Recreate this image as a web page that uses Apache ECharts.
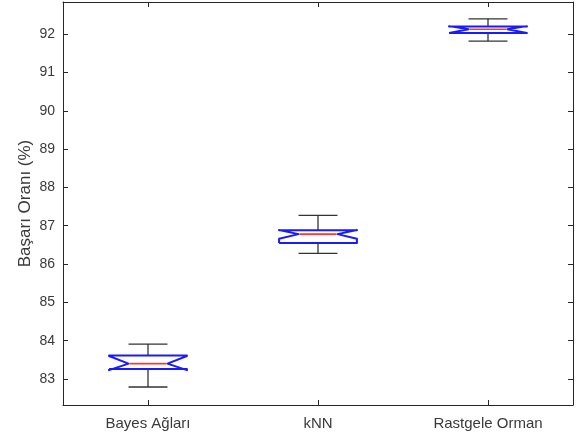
<!DOCTYPE html>
<html>
<head>
<meta charset="utf-8">
<script src="https://cdn.jsdelivr.net/npm/echarts@6/dist/echarts.min.js"></script>
<style>
html,body{margin:0;padding:0;background:#fff;}
#c{width:580px;height:437px;}
</style>
</head>
<body>
<div id="c"></div>
<script>
const categories = ['Bayes Ağları', 'kNN', 'Rastgele Orman'];
const whiskerLow  = [82.79, 86.28, 91.82];
const quartile1   = [83.26, 86.55, 92.03];
const medians     = [83.40, 86.78, 92.13];
const quartile3   = [83.61, 86.88, 92.20];
const whiskerHigh = [83.91, 87.27, 92.40];
const notchLow    = [83.23, 86.66, 92.03];
const notchHigh   = [83.60, 86.89, 92.21];
const yMin = 82.32, yMax = 92.84;

const data = categories.map((c, i) => [i, whiskerLow[i], quartile1[i], medians[i], quartile3[i], whiskerHigh[i], notchLow[i], notchHigh[i]]);

const chart = echarts.init(document.getElementById('c'), null, {renderer: 'canvas'});
const axisColor = '#262626';
const textColor = '#3a3a3a';
const fontFam = 'Arial, "Liberation Sans", Helvetica, sans-serif';

function renderItem(params, api) {
  const idx = api.value(0);
  const x = api.coord([idx, api.value(3)])[0];
  const Y = k => api.coord([idx, api.value(k)])[1];
  const band = api.size([1, 0])[0];
  const half = band * 0.229;
  const d = half / 2;
  const capHalf = half / 2;
  const wl = Y(1), q1 = Y(2), md = Y(3), q3 = Y(4), wh = Y(5), nl = Y(6), nh = Y(7);
  const blk = {stroke: '#333', lineWidth: 1.3, fill: null};
  const pts = [
    [x - half, q1], [x - half, nl], [x - half + d, md], [x - half, nh], [x - half, q3],
    [x + half, q3], [x + half, nh], [x + half - d, md], [x + half, nl], [x + half, q1], [x - half, q1]
  ];
  return {
    type: 'group',
    children: [
      {type: 'line', shape: {x1: x, y1: q3, x2: x, y2: wh}, style: blk},
      {type: 'line', shape: {x1: x, y1: q1, x2: x, y2: wl}, style: blk},
      {type: 'line', shape: {x1: x - capHalf, y1: wh, x2: x + capHalf, y2: wh}, style: blk},
      {type: 'line', shape: {x1: x - capHalf, y1: wl, x2: x + capHalf, y2: wl}, style: blk},
      {type: 'polyline', shape: {points: pts}, style: {stroke: '#1a1aff', lineWidth: 2, fill: null, lineJoin: 'round'}},
      {type: 'line', shape: {x1: x - half + d + 1, y1: md, x2: x + half - d - 1, y2: md}, style: {stroke: '#ff3333', lineWidth: 1.6}}
    ]
  };
}

function tick() { return {show: true, inside: true, length: 5, lineStyle: {color: axisColor, width: 1}}; }
chart.setOption({
  animation: false,
  backgroundColor: '#fff',
  grid: {left: 63, right: 7, top: 2, bottom: 32, containLabel: false},
  xAxis: [
    {type: 'category', data: categories, position: 'bottom', boundaryGap: true,
     axisLine: {show: true, lineStyle: {color: axisColor, width: 1}},
     axisTick: Object.assign({alignWithLabel: true}, tick()),
     axisLabel: {color: textColor, fontSize: 15, fontFamily: fontFam, margin: 11},
     splitLine: {show: false}},
    {type: 'category', data: categories, position: 'top', boundaryGap: true,
     axisLine: {show: true, lineStyle: {color: axisColor, width: 1}},
     axisTick: Object.assign({alignWithLabel: true}, tick()),
     axisLabel: {show: false}, splitLine: {show: false}}
  ],
  yAxis: [
    {type: 'value', min: yMin, max: yMax, minInterval: 1, maxInterval: 1, position: 'left',
     name: 'Başarı Oranı (%)', nameLocation: 'middle', nameGap: 29, nameRotate: 90, nameMoveOverlap: false,
     nameTextStyle: {color: textColor, fontSize: 17, fontFamily: fontFam},
     axisLine: {show: true, lineStyle: {color: axisColor, width: 1}},
     axisTick: tick(),
     axisLabel: {color: textColor, fontSize: 14, fontFamily: fontFam, margin: 8, showMinLabel: false, showMaxLabel: false},
     splitLine: {show: false}},
    {type: 'value', min: yMin, max: yMax, minInterval: 1, maxInterval: 1, position: 'right',
     axisLine: {show: true, lineStyle: {color: axisColor, width: 1}},
     axisTick: tick(), axisLabel: {show: false}, splitLine: {show: false}}
  ],
  series: [{
    type: 'custom',
    xAxisIndex: 0, yAxisIndex: 0,
    renderItem: renderItem,
    encode: {x: 0, y: [1, 2, 3, 4, 5, 6, 7]},
    data: data,
    silent: true
  }]
});
</script>
</body>
</html>
